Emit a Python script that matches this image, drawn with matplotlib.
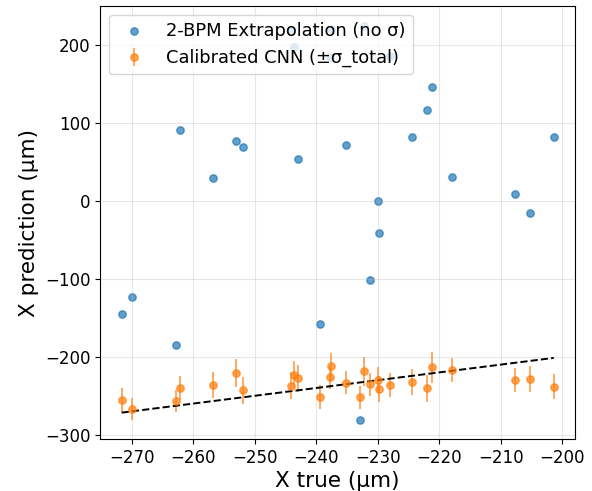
import numpy as np
import matplotlib.pyplot as plt

# valores (µm)
x_true = [-271.6, -269.9, -262.8, -262.2, -256.8, -253.0, -251.9, -244.1, -243.6,
          -243.0, -239.4, -237.7, -237.6, -235.2, -232.9, -232.2, -231.3, -230.0,
          -229.8, -228.0, -224.4, -222.0, -221.2, -218.0, -207.7, -205.2, -201.4]

x_bpm = [-144.6, -122.7, -184.9, 90.5, 29.5, 77.3, 68.7, 218.0, 197.0,
         53.3, -157.7, 185.0, 220.5, 72.2, -280.4, 224.7, -100.9, 0.4,
         -41.0, 186.3, 81.5, 116.7, 145.6, 30.8, 9.0, -15.9, 81.5]

x_cnn = [-255.1, -266.7, -256.9, -240.3, -235.9, -220.5, -243.2, -236.8, -222.7,
         -227.8, -251.8, -226.2, -212.4, -233.3, -251.8, -218.5, -235.5, -229.5,
         -241.0, -235.9, -232.6, -240.3, -213.3, -216.7, -229.5, -228.2, -238.1]

sigma_total = [15.4, 14.0, 14.3, 15.6, 16.7, 18.0, 17.5, 16.7, 17.0,
               17.8, 15.6, 15.0, 17.5, 14.5, 15.0, 18.6, 15.2, 17.0,
               17.0, 15.4, 17.0, 17.5, 20.0, 15.2, 15.0, 16.4, 15.6]

fig, ax = plt.subplots(figsize=(5.92, 4.91), dpi=100)
fig.subplots_adjust(left=0.169, right=0.972, top=0.988, bottom=0.105)

ax.scatter(x_true, x_bpm, s=28, alpha=0.7, color='#1f77b4',
           label='2-BPM Extrapolation (no σ)')
ax.errorbar(x_true, x_cnn, yerr=sigma_total, fmt='o', ms=5.3, alpha=0.7,
            color='#ff7f0e', elinewidth=1.3, label='Calibrated CNN (±σ_total)')

# linha ideal y = x
lim = [min(x_true), max(x_true)]
ax.plot(lim, lim, 'k--', lw=1.4)

ax.set_xlabel('X true (µm)', fontsize=15.5, labelpad=3)
ax.set_ylabel('X prediction (µm)', fontsize=15.5)
ax.tick_params(labelsize=12)
ax.grid(True, alpha=0.3)
ax.legend(loc='upper left', fontsize=12.9)

fig.savefig('out.png', dpi=100)
